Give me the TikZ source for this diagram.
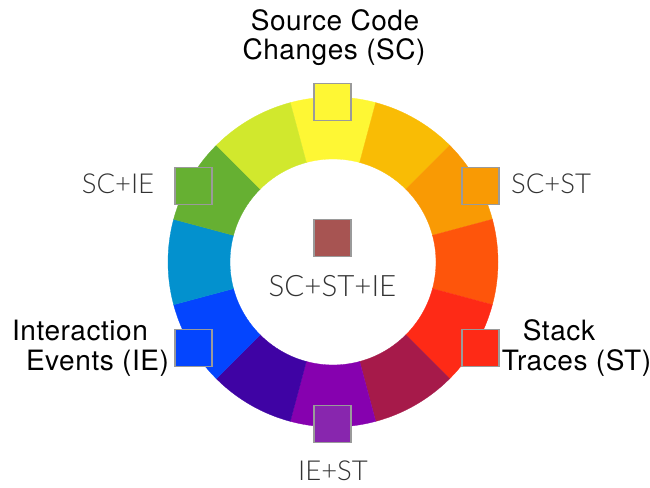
\documentclass[tikz,border=0pt]{standalone}
\usepackage{fontspec}
\setmainfont[LetterSpace=2]{TeX Gyre Heros}
\newfontfamily\lightfont{Lato Light}
\definecolor{cY}{HTML}{FEF734}
\definecolor{cYO}{HTML}{F9BC05}
\definecolor{cO}{HTML}{F99A04}
\definecolor{cRO}{HTML}{FE550B}
\definecolor{cR}{HTML}{FE2A16}
\definecolor{cRV}{HTML}{A61A4A}
\definecolor{cV}{HTML}{8601AF}
\definecolor{cBV}{HTML}{3F03A4}
\definecolor{cB}{HTML}{0445FE}
\definecolor{cBG}{HTML}{0391CE}
\definecolor{cG}{HTML}{66B032}
\definecolor{cYG}{HTML}{D1E82D}
\definecolor{cIEST}{HTML}{8826AE}
\definecolor{cAll}{HTML}{A75452}
\definecolor{sqborder}{HTML}{9A9A9A}
\definecolor{lighttext}{HTML}{333333}
\tikzset{
  swatch/.style={draw=sqborder, line width=1.4pt, minimum size=37pt, inner sep=0pt, outer sep=0pt},
  mainlabel/.style={inner sep=0pt, anchor=base, text=black, font=\fontsize{28}{31}\selectfont},
  sublabel/.style={inner sep=0pt, anchor=base, text=lighttext, font=\lightfont\fontsize{27.5}{30}\selectfont},
}
\begin{document}
\begin{tikzpicture}[x=1pt,y=1pt]
\useasboundingbox (0,0) rectangle (650,487);
\coordinate (C) at (333,225);
% ring of 12 wedges
\foreach \a/\c in {90/cY,60/cYO,30/cO,0/cRO,-30/cR,-60/cRV,-90/cV,-120/cBV,-150/cB,180/cBG,150/cG,120/cYG}{
  \fill[\c, draw=\c, line width=0.3pt]
    ([shift={(\a-15:165)}]C) arc[start angle=\a-15, end angle=\a+15, radius=165]
    -- ([shift={(\a+15:103)}]C) arc[start angle=\a+15, end angle=\a-15, radius=103] -- cycle;
}
% swatches
\node[swatch, fill=cY] (sc) at (332.5,385) {};
\node[swatch, fill=cG] (scie) at (193.5,301) {};
\node[swatch, fill=cO] (scst) at (480.5,301) {};
\node[swatch, fill=cB] (ie) at (193.5,139) {};
\node[swatch, fill=cR] (st) at (480.5,139) {};
\node[swatch, fill=cIEST] (iest) at (332.5,63) {};
\node[swatch, fill=cAll] (all) at (332.5,249) {};
% main labels
\node[mainlabel] (t1) at (335,456) {Source Code};
\node[mainlabel] (t2) at (334,427) {Changes (SC)};
\node[mainlabel] (t3) at (80,146) {Interaction};
\node[mainlabel] (t4) at (97.5,116) {Events (IE)};
\node[mainlabel] (t5) at (559,146) {Stack};
\node[mainlabel] (t6) at (576.5,116) {Traces (ST)};
% combination labels
\node[sublabel] (l1) at (118,293) {SC+IE};
\node[sublabel] (l2) at (551,293) {SC+ST};
\node[sublabel, font=\lightfont\fontsize{29.5}{32}\selectfont] (l3) at (332.5,190) {SC+ST+IE};
\node[sublabel] (l4) at (333,7) {IE+ST};
\end{tikzpicture}
\end{document}
